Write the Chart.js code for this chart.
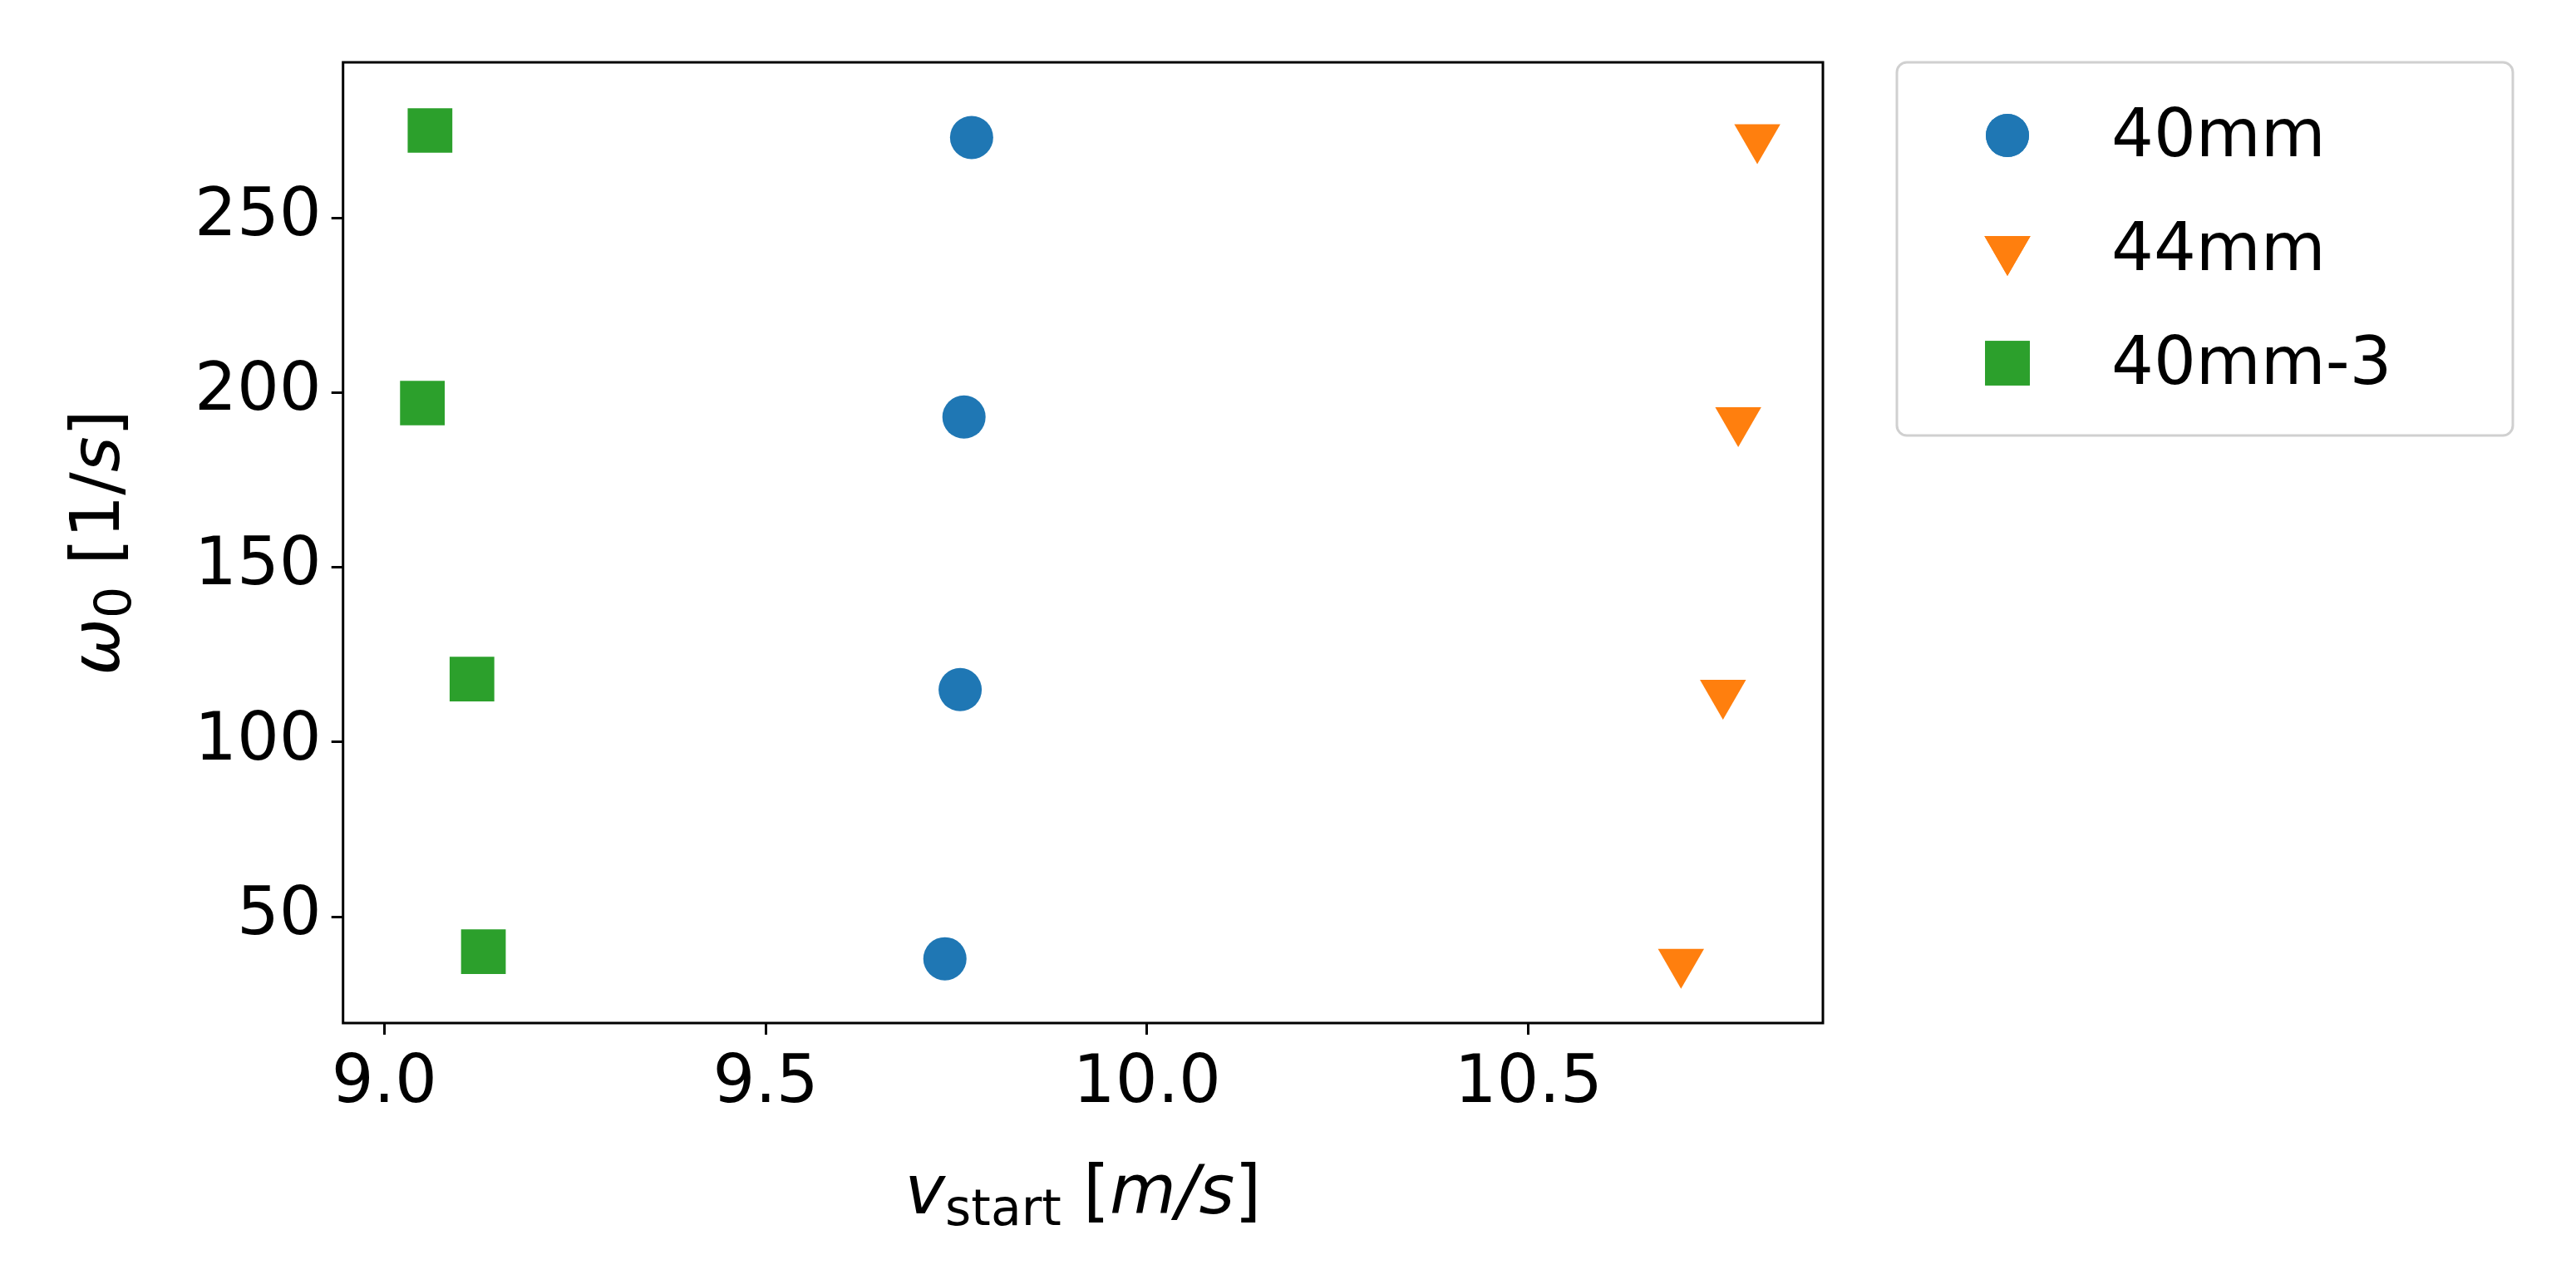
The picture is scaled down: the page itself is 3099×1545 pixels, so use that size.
<!doctype html>
<html lang="en">
  <head>
    <meta charset="UTF-8" />
    <title>omega vs v_start</title>
    <script src="https://cdn.jsdelivr.net/npm/chart.js"></script>
    <style>
      body { margin: 0; background: #fff; }
      #wrap { width: 3099px; height: 1545px; }
    </style>
  </head>
  <body>
    <div id="wrap"><canvas id="c" width="3099" height="1545"></canvas></div>
    <script>
      const seriesNames = ['40mm', '44mm', '40mm-3']
      const colors = ['#1f77b4', '#ff7f0e', '#2ca02c']
      const x40 = [9.77, 9.76, 9.755, 9.735]
      const y40 = [273, 193, 115, 38]
      const x44 = [10.8, 10.775, 10.755, 10.7]
      const y44 = [273, 192, 114, 37]
      const x403 = [9.06, 9.05, 9.115, 9.13]
      const y403 = [275, 197, 118, 40]
      const xTicks = [9.0, 9.5, 10.0, 10.5]
      const yTicks = [50, 100, 150, 200, 250]

      const pts = (xs, ys) => xs.map((x, i) => ({ x, y: ys[i] }))
      const styles = [
        { pointStyle: 'circle', pointRadius: 26, rotation: 0 },
        { pointStyle: 'triangle', pointRadius: 32, rotation: 180 },
        { pointStyle: 'rect', pointRadius: 38, rotation: 0 },
      ]
      const allData = [pts(x40, y40), pts(x44, y44), pts(x403, y403)]

      const font = { family: 'DejaVu Sans', size: 80 }

      // frame, axis titles and legend drawn by hand
      const extras = {
        id: 'extras',
        afterDraw(chart) {
          const { ctx, chartArea: a } = chart
          ctx.save()
          ctx.strokeStyle = '#000'
          ctx.lineWidth = 3
          ctx.strokeRect(a.left, a.top, a.right - a.left, a.bottom - a.top)

          // x title: v_start [m/s]
          ctx.fillStyle = '#000'
          ctx.textBaseline = 'alphabetic'
          const parts = [
            ['italic 82px DejaVu Sans', 'v', 0],
            ['60px DejaVu Sans', 'start', 14],
            ['82px DejaVu Sans', ' [', 0],
            ['italic 82px DejaVu Sans', 'm/s', 0],
            ['82px DejaVu Sans', ']', 0],
          ]
          let w = 0
          parts.forEach(([f, t]) => { ctx.font = f; w += ctx.measureText(t).width })
          let x = (a.left + a.right) / 2 - w / 2
          const by = 1460
          parts.forEach(([f, t, dy]) => {
            ctx.font = f
            ctx.fillText(t, x, by + dy)
            x += ctx.measureText(t).width
          })

          // y title: omega_0 [1/s]
          ctx.translate(115, (a.top + a.bottom) / 2)
          ctx.rotate(-Math.PI / 2)
          const yparts = [
            ['italic 82px DejaVu Sans', 'ω', 0],
            ['60px DejaVu Sans', '0', 14],
            ['82px DejaVu Sans', ' [1/', 0],
            ['italic 82px DejaVu Sans', 's', 0],
            ['82px DejaVu Sans', ']', 0],
          ]
          w = 0
          yparts.forEach(([f, t]) => { ctx.font = f; w += ctx.measureText(t).width })
          x = -w / 2
          yparts.forEach(([f, t, dy]) => {
            ctx.font = f
            ctx.fillText(t, x, 28 + dy)
            x += ctx.measureText(t).width
          })
          ctx.restore()

          // legend
          ctx.save()
          const lx = 2282, ly = 75, lw = 741, lh = 449
          ctx.strokeStyle = '#d0d0d0'
          ctx.lineWidth = 3
          ctx.beginPath()
          ctx.roundRect(lx, ly, lw, lh, 12)
          ctx.stroke()
          ctx.font = '80px DejaVu Sans'
          ctx.textBaseline = 'middle'
          seriesNames.forEach((name, i) => {
            const cy = ly + 88 + i * 137
            const s = styles[i]
            ctx.fillStyle = colors[i]
            Chart.helpers.drawPoint(ctx, { pointStyle: s.pointStyle, radius: s.pointRadius, rotation: s.rotation, borderWidth: 0 }, 2415, cy)
            ctx.fill()
            ctx.fillStyle = '#000'
            ctx.fillText(name, 2540, cy + 4)
          })
          ctx.restore()
        },
      }

      new Chart(document.getElementById('c'), {
        type: 'scatter',
        data: {
          datasets: seriesNames.map((label, i) => ({
            label,
            data: allData[i],
            backgroundColor: colors[i],
            borderColor: colors[i],
            borderWidth: 0,
            pointStyle: styles[i].pointStyle,
            pointRadius: styles[i].pointRadius,
            pointRotation: styles[i].rotation,
          })),
        },
        options: {
          responsive: false,
          animation: false,
          layout: { padding: { left: 222, right: 906, top: 75, bottom: 180 } },
          plugins: { legend: { display: false }, tooltip: { enabled: false } },
          scales: {
            x: {
              min: 8.946,
              max: 10.886,
              afterBuildTicks: (s) => { s.ticks = xTicks.map((v) => ({ value: v })) },
              ticks: { color: '#000', font, padding: 12, callback: (v) => Number(v).toFixed(1) },
              grid: { drawOnChartArea: false, tickLength: 14, color: '#000', lineWidth: 3 },
              border: { display: false },
            },
            y: {
              min: 19.6,
              max: 294.5,
              afterBuildTicks: (s) => { s.ticks = yTicks.map((v) => ({ value: v })) },
              ticks: { color: '#000', font, padding: 12 },
              grid: { drawOnChartArea: false, tickLength: 14, color: '#000', lineWidth: 3 },
              border: { display: false },
            },
          },
        },
        plugins: [extras],
      })
    </script>
  </body>
</html>
